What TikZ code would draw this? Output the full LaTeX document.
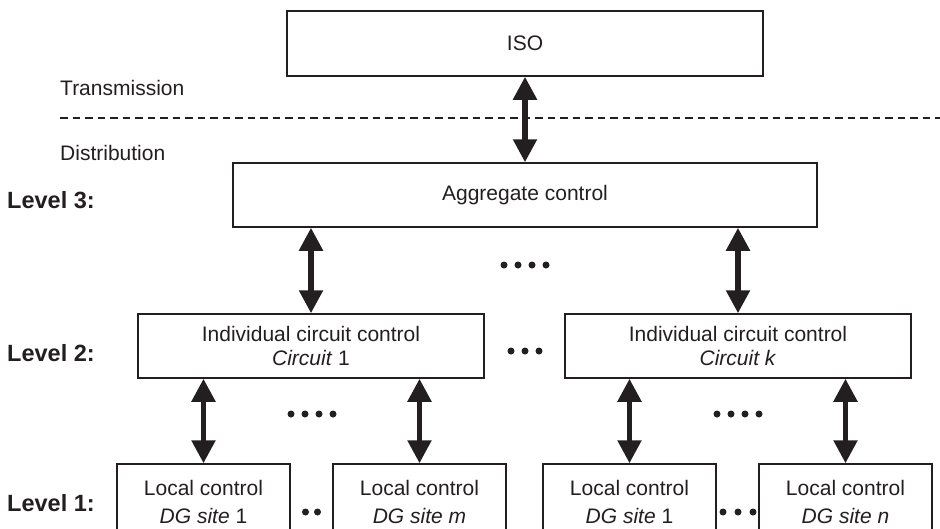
\documentclass[tikz,border=0pt]{standalone}
\usepackage{fontspec}
\setmainfont{Liberation Sans}
\usetikzlibrary{arrows.meta}
\definecolor{ink}{RGB}{35,31,32}
\begin{document}
\begin{tikzpicture}[x=1pt,y=-1pt,
  box/.style={draw=ink, line width=1.5pt, inner sep=0pt, align=center, text=ink, font=\fontsize{21}{24.5}\selectfont},
  loc/.style={box, minimum width=173pt, minimum height=76pt, font=\fontsize{21}{28}\selectfont},
  lvl/.style={anchor=west, inner sep=0pt, text=ink, font=\fontsize{23.5}{28}\selectfont\bfseries},
  lbl/.style={anchor=west, inner sep=0pt, text=ink, font=\fontsize{21}{25}\selectfont},
  link/.style={line width=5.3pt, draw=ink, {Triangle[width=23pt,length=23pt]}-{Triangle[width=23pt,length=23pt]}},
  sep/.style={draw=ink, line width=1.5pt, dash pattern=on 7.5pt off 5pt}]
\useasboundingbox (0,0) rectangle (940,528);
\clip (0,0) rectangle (940,528);
\fill[white] (0,0) rectangle (940,528);

% boxes
\node[box, minimum width=476pt, minimum height=65pt] (iso) at (525,43.5) {ISO};
\node[box, minimum width=584pt, minimum height=64pt] (agg) at (525,195) {Aggregate control};
\node[box, minimum width=346pt, minimum height=64pt] (c1) at (311,346) {Individual circuit control\\\textit{Circuit} 1};
\node[box, minimum width=346pt, minimum height=64pt] (ck) at (738,346) {Individual circuit control\\\textit{Circuit k}};
\node[loc] (d1) at (203.5,502) {Local control\\\textit{DG site} 1};
\node[loc] (dm) at (419.5,502) {Local control\\\textit{DG site m}};
\node[loc] (e1) at (629.5,502) {Local control\\\textit{DG site} 1};
\node[loc] (en) at (845.5,502) {Local control\\\textit{DG site n}};

% labels
\node[lbl] (trans) at (60,88) {Transmission};
\node[lbl] (dist) at (60,153) {Distribution};
\node[lvl] (lv3) at (7,200) {Level 3:};
\node[lvl] (lv2) at (7,353) {Level 2:};
\node[lvl] (lv1) at (7,503) {Level 1:};

% separator
\coordinate (dl) at (60,118);
\coordinate (dr) at (940,118);
\draw[sep] (dl) -- (dr);

% connectors
\draw[link] (iso.south) -- (agg.north);
\draw[link] (c1.north |- agg.south) -- (c1.north);
\draw[link] (ck.north |- agg.south) -- (ck.north);
\draw[link] (d1.north |- c1.south) -- (d1.north);
\draw[link] (dm.north |- c1.south) -- (dm.north);
\draw[link] (e1.north |- ck.south) -- (e1.north);
\draw[link] (en.north |- ck.south) -- (en.north);

% ellipsis dots
\foreach \x in {504,518,532,546} \fill[ink] (\x,265) circle (3.5pt);
\foreach \x in {511,525,539} \fill[ink] (\x,351) circle (3.5pt);
\foreach \x in {291,305,319,333} \fill[ink] (\x,414) circle (3.5pt);
\foreach \x in {717,731,745,759} \fill[ink] (\x,414) circle (3.5pt);
\foreach \x in {305.5,317.5} \fill[ink] (\x,512) circle (3.5pt);
\foreach \x in {723,738,753} \fill[ink] (\x,512) circle (3.5pt);
\end{tikzpicture}
\end{document}
